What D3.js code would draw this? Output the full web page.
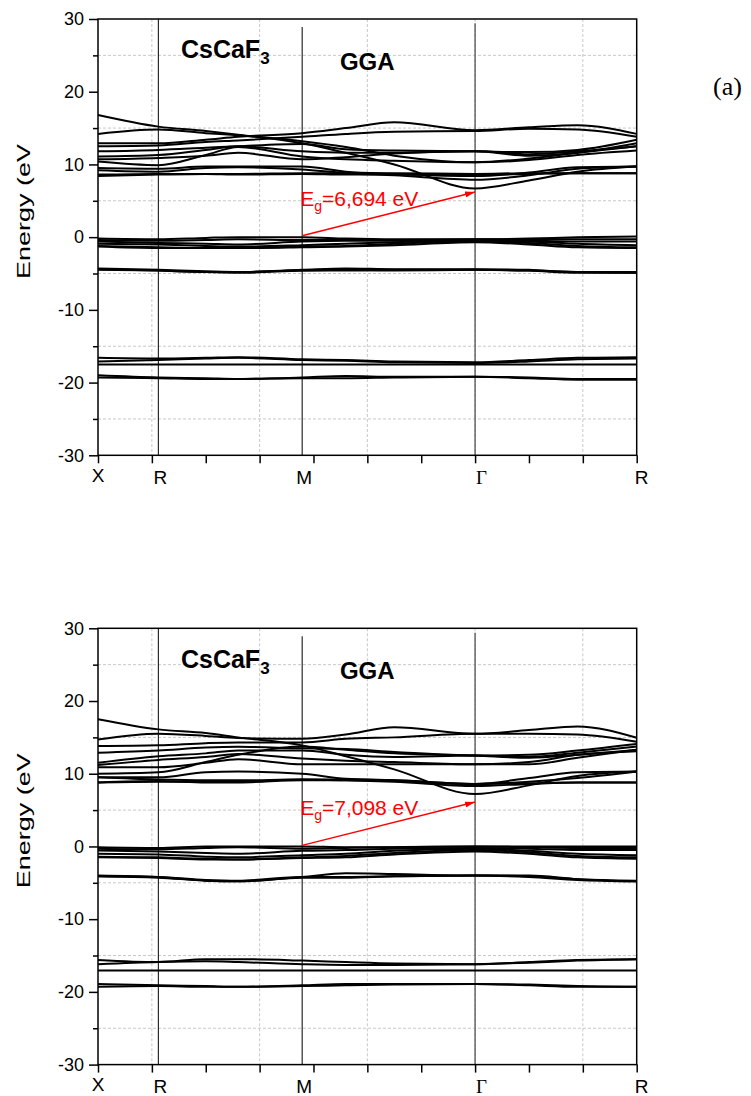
<!DOCTYPE html>
<meta charset="utf-8">
<style>
body{margin:0;background:#fff;}
svg{display:block;font-family:"Liberation Sans",Arial,sans-serif;}
.grid line{stroke:#c8c8c8;stroke-dasharray:3,2;stroke-width:1;}
.band{fill:none;stroke:#000;stroke-width:2;}
.tick line{stroke:#000;stroke-width:1.5;}
.tick text{font-size:18px;fill:#000;}
</style>
<body>
<script src="https://d3js.org/d3.v7.min.js"></script>
<script>

// k-path sample points (x axis runs 0..10, high symmetry points below)
var kSample = [0, 1.12, 2.0, 2.6, 3.79, 4.6, 5.5, 7.0, 8.0, 8.9, 10];
var kPos = [0, 1.12, 3.79, 7.0, 10];
var kLabels = ["X", "R", "M", "\u0393", "R"];
var yMajor = [-30, -20, -10, 0, 10, 20, 30];
var yMinor = [-25, -15, -5, 5, 15, 25];
var xTicks = [0, 1, 2, 3, 4, 5, 6, 7, 8, 9, 10];
var xGrid = [1, 3, 5, 7, 9];

// panel (a) bands, eV
var condA = [
  [16.8, 15.2, 14.6, 14.1, 12.9, 11.6, 10.0, 6.7, 7.8, 9.0, 9.7],
  [14.2, 14.8, 14.3, 14.0, 13.2, 12.4, 11.2, 10.3, 10.8, 11.6, 12.5],
  [12.9, 12.9, 13.4, 13.8, 14.3, 15.0, 15.8, 14.7, 15.1, 15.4, 14.2],
  [12.5, 12.6, 13.1, 13.3, 13.8, 14.2, 14.5, 14.6, 14.9, 14.8, 13.8],
  [11.8, 12.0, 12.3, 12.5, 12.8, 12.1, 11.9, 11.8, 11.7, 12.0, 13.4],
  [11.1, 11.3, 12.0, 12.5, 11.8, 11.6, 11.6, 11.8, 11.2, 11.6, 12.9],
  [10.7, 10.9, 11.2, 11.6, 10.7, 11.0, 11.5, 11.8, 11.4, 11.8, 12.5],
  [10.4, 9.9, 11.3, 12.4, 11.1, 10.7, 10.5, 10.3, 10.6, 11.3, 11.9],
  [9.5, 9.4, 9.7, 9.7, 9.7, 9.0, 8.7, 8.4, 8.9, 9.6, 9.7],
  [9.2, 9.0, 9.5, 9.6, 9.3, 8.8, 8.5, 7.9, 8.5, 9.4, 9.7],
  [8.6, 8.7, 8.7, 8.7, 8.8, 8.8, 8.8, 8.7, 8.8, 8.8, 8.8],
  [8.4, 8.6, 8.7, 8.6, 8.7, 8.6, 8.6, 8.6, 8.7, 8.8, 8.8]
];
var valA = [
  [-0.2, -0.3, -0.1, 0.0, 0.0, -0.2, -0.3, -0.3, -0.2, 0.0, 0.1],
  [-0.4, -0.5, -0.4, -0.3, -0.4, -0.4, -0.4, -0.3, -0.3, -0.3, -0.3],
  [-0.6, -0.8, -0.9, -1.0, -0.6, -0.5, -0.5, -0.4, -0.5, -0.6, -0.6],
  [-0.9, -1.0, -1.2, -1.3, -1.1, -0.9, -0.7, -0.5, -0.6, -0.9, -1.1],
  [-1.2, -1.4, -1.5, -1.5, -1.3, -1.2, -0.9, -0.6, -0.8, -1.2, -1.4],
  [-1.3, -1.5, -1.5, -1.5, -1.4, -1.3, -1.1, -0.7, -1.0, -1.4, -1.5]
];
var semiA = [
  [-4.3, -4.5, -4.7, -4.8, -4.5, -4.3, -4.4, -4.4, -4.5, -4.8, -4.8],
  [-4.4, -4.6, -4.8, -4.8, -4.6, -4.6, -4.5, -4.5, -4.6, -4.8, -4.9],
  [-4.5, -4.6, -4.8, -4.9, -4.6, -4.5, -4.6, -4.5, -4.6, -4.9, -4.9]
];
var deepA = [
  [-16.6, -16.7, -16.6, -16.5, -16.8, -16.9, -17.1, -17.2, -16.9, -16.6, -16.5],
  [-17.1, -16.9, -16.7, -16.6, -16.9, -17.0, -17.2, -17.3, -17.1, -16.8, -16.7],
  [-17.5, -17.5, -17.5, -17.5, -17.5, -17.5, -17.5, -17.5, -17.5, -17.5, -17.5],
  [-19.0, -19.3, -19.4, -19.5, -19.3, -19.1, -19.2, -19.2, -19.3, -19.5, -19.5],
  [-19.3, -19.4, -19.5, -19.5, -19.4, -19.4, -19.3, -19.2, -19.4, -19.6, -19.6]
];

// panel (b) bands, eV
var condB = [
  [17.5, 16.1, 15.6, 15.0, 13.9, 12.4, 10.6, 7.2, 8.4, 9.7, 10.3],
  [14.7, 15.5, 15.2, 14.9, 14.8, 15.4, 16.4, 15.5, 16.0, 16.5, 14.95],
  [13.8, 13.9, 14.2, 14.3, 14.3, 14.8, 15.0, 15.5, 15.5, 15.4, 14.4],
  [12.9, 13.2, 13.6, 13.7, 13.5, 13.4, 13.0, 12.5, 12.6, 13.2, 14.1],
  [11.5, 12.4, 12.8, 13.2, 13.2, 12.6, 12.3, 12.5, 12.3, 12.9, 13.75],
  [11.2, 11.9, 12.3, 12.7, 12.1, 11.8, 11.6, 11.3, 11.3, 12.2, 13.3],
  [10.9, 10.9, 11.5, 12.0, 11.3, 11.3, 11.3, 11.3, 11.6, 12.6, 13.1],
  [10.0, 10.2, 11.6, 12.6, 13.75, 13.3, 12.8, 12.5, 12.2, 12.6, 13.3],
  [9.5, 9.5, 10.2, 10.3, 10.0, 9.3, 9.1, 8.6, 9.4, 10.2, 10.3],
  [9.5, 9.2, 9.1, 9.1, 9.2, 9.1, 8.9, 8.3, 8.6, 8.8, 8.8],
  [8.8, 9.0, 8.8, 8.8, 9.1, 9.1, 9.0, 8.6, 8.7, 8.8, 8.8],
  [8.8, 8.9, 8.9, 8.9, 9.2, 9.2, 9.1, 8.6, 8.9, 9.4, 10.3]
];
var valB = [
  [-0.1, -0.2, 0.0, 0.0, 0.0, -0.1, -0.1, 0.0, 0.0, 0.0, 0.0],
  [-0.3, -0.4, -0.2, -0.1, -0.3, -0.2, -0.1, 0.0, -0.1, -0.2, -0.2],
  [-0.55, -0.7, -0.9, -1.0, -0.6, -0.5, -0.3, -0.2, -0.3, -0.5, -0.5],
  [-1.0, -1.1, -1.4, -1.5, -1.2, -1.0, -0.6, -0.3, -0.6, -1.0, -1.2],
  [-1.4, -1.5, -1.7, -1.8, -1.5, -1.3, -0.9, -0.5, -0.8, -1.3, -1.5],
  [-1.5, -1.6, -1.8, -1.8, -1.6, -1.5, -1.1, -0.7, -1.0, -1.5, -1.7]
];
var semiB = [
  [-4.0, -4.2, -4.7, -4.8, -4.2, -3.7, -3.8, -4.0, -4.0, -4.5, -4.8],
  [-4.1, -4.3, -4.7, -4.8, -4.3, -4.3, -4.1, -4.0, -4.2, -4.6, -4.8],
  [-4.1, -4.2, -4.6, -4.7, -4.2, -4.2, -4.1, -4.0, -4.1, -4.5, -4.7]
];
var deepB = [
  [-15.6, -15.9, -15.5, -15.5, -15.7, -15.9, -16.1, -16.2, -15.9, -15.6, -15.5],
  [-16.2, -15.9, -15.8, -15.9, -16.2, -16.3, -16.3, -16.2, -16.0, -15.7, -15.5],
  [-17.05, -17.05, -17.05, -17.05, -17.05, -17.05, -17.05, -17.05, -17.05, -17.05, -17.05],
  [-18.9, -19.1, -19.2, -19.3, -19.1, -18.9, -18.9, -18.9, -19.0, -19.2, -19.3],
  [-19.3, -19.2, -19.3, -19.3, -19.2, -19.1, -19.0, -18.9, -19.1, -19.3, -19.3]
];

// gap arrows: [k start, E start, k end, E end]
var gapA = [3.79, 0.2, 7.0, 6.2];
var gapB = [3.79, 0.15, 7.0, 6.1];
var gapTextA = "6,694 eV";
var gapTextB = "7,098 eV";

var W = 751, H = 1096;
var svg = d3.select("body").append("svg").attr("width", W).attr("height", H);

var defs = svg.append("defs");
defs.append("marker").attr("id", "arr")
  .attr("viewBox", "0 0 10 6").attr("refX", 10).attr("refY", 3)
  .attr("markerWidth", 10).attr("markerHeight", 6)
  .attr("markerUnits", "userSpaceOnUse").attr("orient", "auto")
  .append("path").attr("d", "M0,0L10,3L0,6Z").attr("fill", "red");

var x = d3.scaleLinear().domain([0, 10]).range([98, 636.7]);

function drawPanel(top, bands, gap, gapText, tag){
  var y = d3.scaleLinear().domain([-30, 30]).range([top + 436.3, top]);
  var g = svg.append("g");

  // grid
  var grid = g.append("g").attr("class", "grid");
  grid.selectAll(".h").data(yMinor).enter().append("line")
    .attr("x1", x(0)).attr("x2", x(10)).attr("y1", d => y(d)).attr("y2", d => y(d));
  grid.selectAll(".v").data(xGrid).enter().append("line")
    .attr("x1", d => x(d)).attr("x2", d => x(d)).attr("y1", y(30)).attr("y2", y(-30));

  // symmetry lines
  g.append("line").attr("x1", x(kPos[1])).attr("x2", x(kPos[1]))
    .attr("y1", y(30)).attr("y2", y(-30)).attr("stroke", "#000").attr("stroke-width", 1);
  g.append("line").attr("x1", x(kPos[2])).attr("x2", x(kPos[2]))
    .attr("y1", y(28.9)).attr("y2", y(-30)).attr("stroke", "#000").attr("stroke-width", 1);
  g.append("line").attr("x1", x(kPos[3])).attr("x2", x(kPos[3]))
    .attr("y1", y(29.4)).attr("y2", y(-30)).attr("stroke", "#666").attr("stroke-width", 1.5);

  var line = d3.line().x((d, i) => x(kSample[i])).y(d => y(d)).curve(d3.curveMonotoneX);
  g.selectAll(".band").data(bands).enter().append("path")
    .attr("class", "band").attr("d", line);

  // frame
  g.append("rect").attr("x", x(0)).attr("y", y(30))
    .attr("width", x(10) - x(0)).attr("height", y(-30) - y(30))
    .attr("fill", "none").attr("stroke", "#000").attr("stroke-width", 1.5);

  // axes
  var ax = g.append("g").attr("transform", "translate(" + x(0) + ",0)");
  ax.call(d3.axisLeft(y).tickValues(yMajor).tickSize(9).tickPadding(5).tickFormat(d => String(d)));
  ax.select(".domain").remove();
  var axm = g.append("g").attr("transform", "translate(" + x(0) + ",0)");
  axm.call(d3.axisLeft(y).tickValues(yMinor).tickSize(5).tickFormat(""));
  axm.select(".domain").remove();
  var bx = g.append("g").attr("transform", "translate(0," + y(-30) + ")");
  bx.call(d3.axisBottom(x).tickValues(xTicks).tickSize(8).tickFormat(""));
  bx.select(".domain").remove();
  g.selectAll(".tick text").attr("font-family", "Liberation Sans, Arial, sans-serif");

  // high symmetry labels
  kLabels.forEach(function(lab, i){
    var t = g.append("text").text(lab).attr("fill", "#000");
    if (lab === "\u0393") {
      t.attr("x", x(kPos[i]) + 1).attr("y", y(-30) + 28.5)
        .attr("font-family", "Liberation Serif, Times New Roman, serif").attr("font-size", 19);
    } else if (i === 0) {
      t.attr("x", x(kPos[i])).attr("y", y(-30) + 26.5).attr("text-anchor", "middle").attr("font-size", 19);
    } else {
      t.attr("x", x(kPos[i]) + (i === 4 ? 5 : 2)).attr("y", y(-30) + 28.5)
        .attr("text-anchor", "middle").attr("font-size", 19);
    }
  });

  // y label
  g.append("text").attr("transform", "translate(30," + (top + 192.5) + ") rotate(-90)")
    .attr("text-anchor", "middle").attr("font-size", 18)
    .attr("textLength", 135).attr("lengthAdjust", "spacingAndGlyphs")
    .text("Energy (eV");

  // titles
  var t1 = g.append("text").attr("x", x(1.54)).attr("y", y(24.6))
    .attr("font-size", 25).attr("font-weight", "bold").text("CsCaF");
  t1.append("tspan").attr("font-size", 17).attr("dy", 6).text("3");
  g.append("text").attr("x", x(4.49)).attr("y", y(23.0))
    .attr("font-size", 24).attr("font-weight", "bold").text("GGA");

  // gap arrow
  g.append("line").attr("x1", x(gap[0])).attr("y1", y(gap[1]))
    .attr("x2", x(gap[2])).attr("y2", y(gap[3]))
    .attr("stroke", "red").attr("stroke-width", 1.5).attr("marker-end", "url(#arr)");
  var et = g.append("text").attr("x", x(gap[0]) - 2).attr("y", y(4.3))
    .attr("font-size", 21).attr("fill", "red").text("E");
  et.append("tspan").attr("font-size", 14).attr("dy", 5).text("g");
  et.append("tspan").attr("dy", -5).text("=" + gapText);

  if (tag) {
    svg.append("text").attr("x", 713).attr("y", top + 76)
      .attr("font-family", "Liberation Serif, Times New Roman, serif")
      .attr("font-size", 26).text(tag);
  }
}

drawPanel(19, condA.concat(valA, semiA, deepA), gapA, gapTextA, "(a)");
drawPanel(628.3, condB.concat(valB, semiB, deepB), gapB, gapTextB, null);
</script>
</body>
</html>
